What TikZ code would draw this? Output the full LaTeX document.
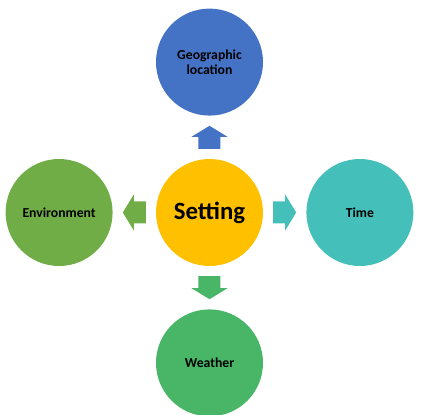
\documentclass[tikz,border=0pt]{standalone}
\usepackage{fontspec}
\setmainfont{Carlito}
\usetikzlibrary{positioning,calc}

\definecolor{geoblue}{HTML}{4472C4}
\definecolor{setgold}{HTML}{FFC000}
\definecolor{timeteal}{HTML}{45BFB9}
\definecolor{envgreen}{HTML}{70AD47}
\definecolor{wethgreen}{HTML}{48B567}

\tikzset{
  topic/.style={circle, minimum size=107pt, inner sep=0pt, align=center,
    font=\fontsize{13.7}{15}\selectfont\bfseries, text=black},
  blockarrow/.pic={
    \fill (-11.5pt,-11pt) -- (0.5pt,-11pt) -- (0.5pt,-18pt) -- (11.5pt,0pt)
      -- (0.5pt,18pt) -- (0.5pt,11pt) -- (-11.5pt,11pt) -- cycle;
  }
}

\begin{document}
\begin{tikzpicture}[node distance=43pt]
  \useasboundingbox (-209.5pt,-202.5pt) rectangle (216.5pt,212.5pt);

  % centre and the four topics
  \node[topic, fill=setgold, font=\fontsize{24.8}{26}\selectfont\bfseries] (set) {Setting};
  \node[topic, fill=geoblue, above=of set] (geo) {Geographic\\location};
  \node[topic, fill=envgreen, left=of set] (env) {Environment};
  \node[topic, fill=timeteal, right=of set] (time) {Time};
  \node[topic, fill=wethgreen, below=of set] (weath) {Weather};

  % block arrows between them
  \pic[rotate=90, fill=geoblue] at ($(set)!0.5!(geo)$) {blockarrow};
  \pic[rotate=180, fill=envgreen] at ($(set)!0.5!(env)$) {blockarrow};
  \pic[fill=timeteal] at ($(set)!0.5!(time)$) {blockarrow};
  \pic[rotate=-90, fill=wethgreen] at ($(set)!0.5!(weath)$) {blockarrow};
\end{tikzpicture}
\end{document}
